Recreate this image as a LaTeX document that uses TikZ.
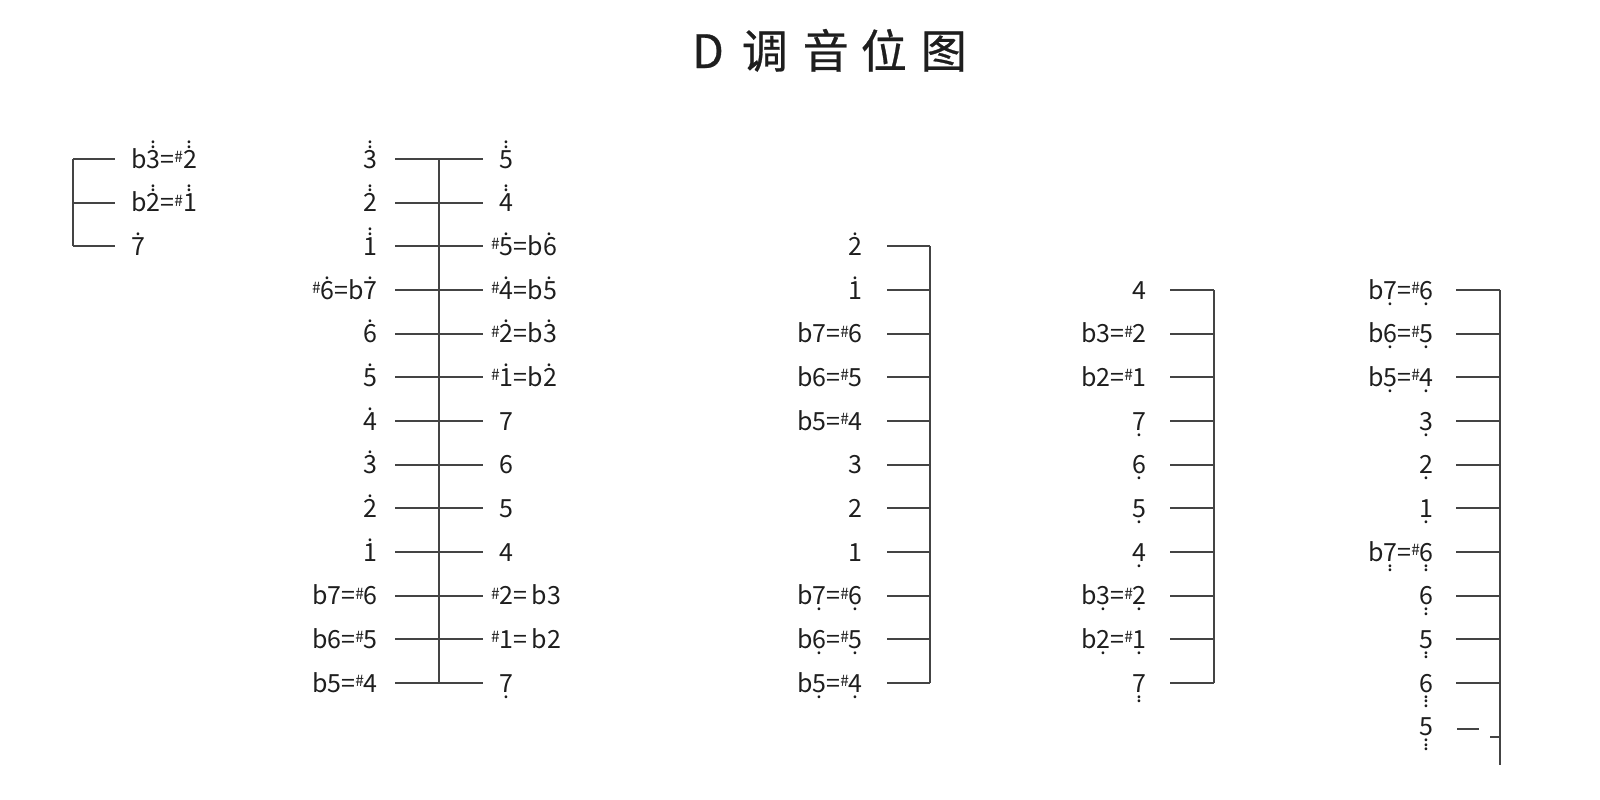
\documentclass[tikz,border=0pt]{standalone}
\usepackage{fontspec}
\usepackage{graphicx}
\setmainfont{Noto Sans CJK SC}
\newfontfamily\cjk[FakeBold=0.6]{Noto Sans CJK SC}
\newcommand\jdot{\scalebox{0.85}{.}}
\newcommand\jUa[1]{\ooalign{#1\cr\hidewidth\raisebox{0.80em}{\jdot}\hidewidth\cr}}
\newcommand\jUb[1]{\ooalign{#1\cr\hidewidth\raisebox{0.80em}{\jdot}\hidewidth\cr\hidewidth\raisebox{0.98em}{\jdot}\hidewidth\cr}}
\newcommand\jDa[1]{\ooalign{#1\cr\hidewidth\raisebox{-0.24em}{\jdot}\hidewidth\cr}}
\newcommand\jDb[1]{\ooalign{#1\cr\hidewidth\raisebox{-0.24em}{\jdot}\hidewidth\cr\hidewidth\raisebox{-0.42em}{\jdot}\hidewidth\cr}}
\newcommand\jDc[1]{\ooalign{#1\cr\hidewidth\raisebox{-0.24em}{\jdot}\hidewidth\cr\hidewidth\raisebox{-0.42em}{\jdot}\hidewidth\cr\hidewidth\raisebox{-0.60em}{\jdot}\hidewidth\cr}}
\newcommand\jS{\raisebox{0.22em}{\scalebox{0.62}{\#}}}
\definecolor{ink}{HTML}{1E1E1E}
\definecolor{rulec}{HTML}{444444}
\begin{document}
\begin{tikzpicture}[x=1pt,y=-1pt,
  tick/.style={draw=rulec,line width=1.8pt},
  lbl/.style={inner sep=0pt,text=ink,font=\fontsize{25}{28}\selectfont}]
\useasboundingbox[fill=white] (0,0) rectangle (1600,800);
% title
\node[inner sep=0pt,anchor=base west,text=ink,font=\cjk\fontsize{46}{50}\selectfont] (title) at (692,68)
  {D\hspace{18pt}调\hspace{15pt}音\hspace{12pt}位\hspace{14pt}图};
% group 1
\foreach \i/\t in {0/{b\jUb3=\jS\jUb2},1/{b\jUb2=\jS\jUb1},2/{\jUa7}}{
  \pgfmathsetmacro\yy{159+43.67*\i}
  \coordinate (a-s\i) at (73,\yy);
  \coordinate (a-e\i) at (115,\yy);
  \draw[tick] (a-s\i) -- (a-e\i);
  \node[lbl,anchor=base west] (a-n\i) at (131,\yy+9) {\t};
}
\draw[tick] (a-s0) -- (a-s2);
% group 2
\foreach \i/\t in {0/{\jUb3},1/{\jUb2},2/{\jUb1},3/{\jS\jUa6=b\jUa7},4/{\jUa6},5/{\jUa5},6/{\jUa4},7/{\jUa3},8/{\jUa2},9/{\jUa1},10/{b7=\jS6},11/{b6=\jS5},12/{b5=\jS4}}{
  \pgfmathsetmacro\yy{159+43.67*\i}
  \coordinate (b-l\i) at (395,\yy);
  \coordinate (b-r\i) at (483,\yy);
  \coordinate (b-s\i) at (439,\yy);
  \draw[tick] (b-l\i) -- (b-r\i);
  \node[lbl,anchor=base east] (b-nl\i) at (378,\yy+9) {\t};
}
\draw[tick] (b-s0) -- (b-s12);
\foreach \i/\x/\t in {0/499/{\jUb5},1/499/{\jUb4},2/491/{\jS\jUa5=b\jUa6},3/491/{\jS\jUa4=b\jUa5},4/491/{\jS\jUa2=b\jUa3},5/491/{\jS\jUa1=b\jUa2},6/499/{7},7/499/{6},8/499/{5},9/499/{4},10/491/{\jS2=\,b3},11/491/{\jS1=\,b2},12/499/{\jDa7}}{
  \pgfmathsetmacro\yy{159+43.67*\i}
  \node[lbl,anchor=base west] (b-nr\i) at (\x,\yy+9) {\t};
}
% group 3
\foreach \i/\t in {2/{\jUa2},3/{\jUa1},4/{b7=\jS6},5/{b6=\jS5},6/{b5=\jS4},7/{3},8/{2},9/{1},10/{b\jDa7=\jS\jDa6},11/{b\jDa6=\jS\jDa5},12/{b\jDa5=\jS\jDa4}}{
  \pgfmathsetmacro\yy{159+43.67*\i}
  \coordinate (c-l\i) at (887,\yy);
  \coordinate (c-r\i) at (930,\yy);
  \draw[tick] (c-l\i) -- (c-r\i);
  \node[lbl,anchor=base east] (c-n\i) at (863,\yy+9) {\t};
}
\draw[tick] (c-r2) -- (c-r12);
% group 4
\foreach \i/\t in {3/{4},4/{b3=\jS2},5/{b2=\jS1},6/{\jDa7},7/{\jDa6},8/{\jDa5},9/{\jDa4},10/{b\jDa3=\jS\jDa2},11/{b\jDa2=\jS\jDa1},12/{\jDb7}}{
  \pgfmathsetmacro\yy{159+43.67*\i}
  \coordinate (d-l\i) at (1170,\yy);
  \coordinate (d-r\i) at (1214,\yy);
  \draw[tick] (d-l\i) -- (d-r\i);
  \node[lbl,anchor=base east] (d-n\i) at (1147,\yy+9) {\t};
}
\draw[tick] (d-r3) -- (d-r12);
% group 5
\foreach \i/\t in {3/{b\jDa7=\jS\jDa6},4/{b\jDa6=\jS\jDa5},5/{b\jDa5=\jS\jDa4},6/{\jDa3},7/{\jDa2},8/{\jDa1},9/{b\jDb7=\jS\jDb6},10/{\jDb6},11/{\jDb5},12/{\jDc6},13/{\jDc5}}{
  \pgfmathsetmacro\yy{159+43.67*\i}
  \node[lbl,anchor=base east] (e-n\i) at (1434,\yy+9) {\t};
}
\foreach \i in {3,...,12}{
  \pgfmathsetmacro\yy{159+43.67*\i}
  \coordinate (e-l\i) at (1456,\yy);
  \coordinate (e-r\i) at (1500,\yy);
  \draw[tick] (e-l\i) -- (e-r\i);
}
\coordinate (e-l13) at (1457,729);
\coordinate (e-m13) at (1479,729);
\coordinate (e-k13) at (1490,737);
\coordinate (e-r13) at (1500,737);
\coordinate (e-end) at (1500,765);
\draw[tick] (e-l13) -- (e-m13);
\draw[tick] (e-k13) -- (e-r13);
\draw[tick] (e-r3) -- (e-end);
\end{tikzpicture}
\end{document}
